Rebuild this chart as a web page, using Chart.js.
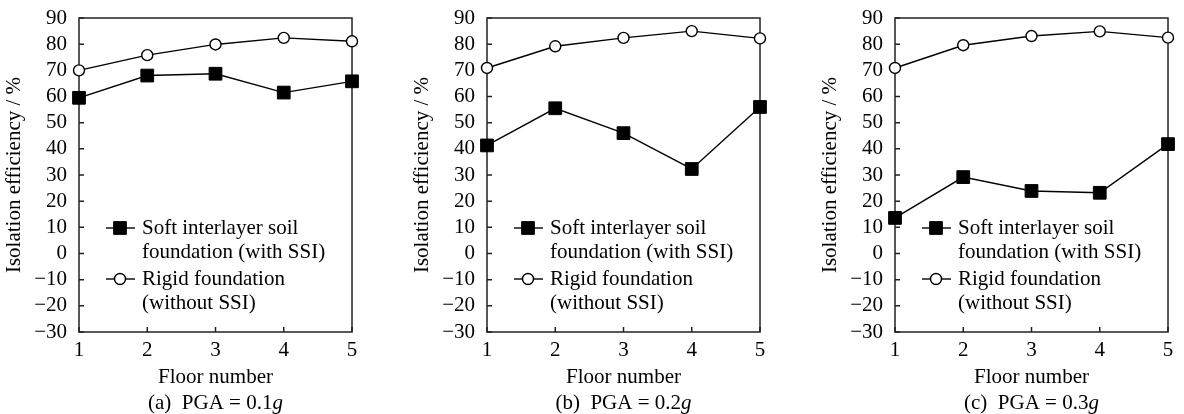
<!DOCTYPE html>
<html>
<head>
<meta charset="utf-8">
<script src="https://cdn.jsdelivr.net/npm/chart.js@4.4.1/dist/chart.umd.min.js"></script>
<style>
body { margin: 0; background: #fff; width: 1184px; height: 414px; overflow: hidden; position: relative }
.panel { position: absolute; top: 0 }
</style>
</head>
<body>
<div class="panel" style="left:0px"><canvas id="chartA" width="364" height="414"></canvas></div>
<div class="panel" style="left:408px"><canvas id="chartB" width="364" height="414"></canvas></div>
<div class="panel" style="left:816px"><canvas id="chartC" width="364" height="414"></canvas></div>
<script>
// floor numbers on the x axis
var floors = ['1', '2', '3', '4', '5']

// isolation efficiency (%)
var softA = [59.5, 68, 68.7, 61.5, 65.8]
var rigidA = [70, 75.8, 79.9, 82.4, 81.1]
var softB = [41.3, 55.5, 46, 32.3, 56]
var rigidB = [70.9, 79.2, 82.4, 85, 82.2]
var softC = [13.6, 29.2, 23.9, 23.2, 41.8]
var rigidC = [70.9, 79.6, 83.1, 84.9, 82.5]

// y ticks: -30 .. 90 step 10
var yMin = -30
var yMax = 90
var yStep = 10

var softLabel = ['Soft interlayer soil', 'foundation (with SSI)']
var rigidLabel = ['Rigid foundation', '(without SSI)']
var captions = ['(a)', '(b)', '(c)']
var pgaValues = ['0.1', '0.2', '0.3']

var serif = '"Liberation Serif", "Times New Roman", serif'

// frame with inner ticks, in-plot legend and caption
var decor = {
	id: 'decor',
	beforeDatasetsDraw: function(chart)
	{
		var ctx = chart.ctx
		var a = chart.chartArea
		var xs = chart.scales.x
		var ys = chart.scales.y
		ctx.save()
		ctx.strokeStyle = '#222'
		ctx.lineWidth = 1.5
		ctx.strokeRect(a.left, a.top, a.right - a.left, a.bottom - a.top)
		ctx.beginPath()
		ys.ticks.forEach(function(t)
		{
			var py = ys.getPixelForValue(t.value)
			ctx.moveTo(a.left, py)
			ctx.lineTo(a.left + 5, py)
		})
		xs.ticks.forEach(function(t, i)
		{
			var px = xs.getPixelForTick(i)
			ctx.moveTo(px, a.bottom)
			ctx.lineTo(px, a.bottom - 5)
		})
		ctx.stroke()
		ctx.restore()
	},
	afterDraw: function(chart, args, opts)
	{
		var ctx = chart.ctx
		var a = chart.chartArea
		ctx.save()
		ctx.font = '21px ' + serif
		ctx.fillStyle = '#000'
		ctx.textBaseline = 'middle'

		var rows = [210, 261]
		chart.data.datasets.forEach(function(ds, i)
		{
			var y = a.top + rows[i]
			ctx.strokeStyle = ds.borderColor
			ctx.lineWidth = ds.borderWidth
			ctx.beginPath()
			ctx.moveTo(a.left + 27, y)
			ctx.lineTo(a.left + 56, y)
			ctx.stroke()
			var cx = a.left + 41
			ctx.fillStyle = ds.pointBackgroundColor
			ctx.strokeStyle = ds.pointBorderColor
			ctx.lineWidth = ds.pointBorderWidth
			ctx.beginPath()
			if(ds.pointStyle == 'rect')
			{
				var s = ds.pointRadius * Math.SQRT1_2
				ctx.rect(cx - s, y - s, 2 * s, 2 * s)
			}
			else
				ctx.arc(cx, y, ds.pointRadius, 0, Math.PI * 2)
			ctx.fill()
			ctx.stroke()

			ctx.fillStyle = '#000'
			ctx.textAlign = 'left'
			ds.legendText.forEach(function(t, j)
			{
				ctx.fillText(t, a.left + 63, y + j * 24)
			})
		})

		// caption with italic g
		var main = opts.caption + '  PGA = ' + opts.pga
		ctx.font = '21px ' + serif
		var w1 = ctx.measureText(main).width
		ctx.font = 'italic 21px ' + serif
		var w2 = ctx.measureText('g').width
		var x0 = (a.left + a.right) / 2 - (w1 + w2) / 2
		ctx.textAlign = 'left'
		ctx.font = '21px ' + serif
		ctx.fillText(main, x0, 403)
		ctx.font = 'italic 21px ' + serif
		ctx.fillText('g', x0 + w1, 403)
		ctx.restore()
	}
}

function makeChart(id, soft, rigid, idx)
{
	return new Chart(document.getElementById(id), {
		type: 'line',
		data: {
			labels: floors,
			datasets: [{
				data: soft,
				legendText: softLabel,
				borderColor: '#000',
				borderWidth: 1.4,
				pointStyle: 'rect',
				pointRadius: 9,
				pointHoverRadius: 9,
				pointBackgroundColor: '#000',
				pointBorderColor: '#000',
				pointBorderWidth: 1,
				tension: 0,
				clip: false
			},
			{
				data: rigid,
				legendText: rigidLabel,
				borderColor: '#000',
				borderWidth: 1.4,
				pointStyle: 'circle',
				pointRadius: 5.5,
				pointHoverRadius: 5.5,
				pointBackgroundColor: '#fff',
				pointBorderColor: '#000',
				pointBorderWidth: 1.4,
				tension: 0,
				clip: false
			}]
		},
		options: {
			responsive: false,
			animation: false,
			layout: { autoPadding: false, padding: { top: 18, right: 12, bottom: 0, left: 0 } },
			plugins: {
				legend: { display: false },
				tooltip: { enabled: false },
				decor: { caption: captions[idx], pga: pgaValues[idx] }
			},
			scales: {
				x: {
					type: 'category',
					offset: false,
					grid: { display: false, drawTicks: false, tickLength: 0 },
					border: { display: false },
					ticks: { color: '#000', padding: 6, autoSkip: false, maxRotation: 0, font: { family: serif, size: 21 } },
					title: { display: true, text: 'Floor number', color: '#000', padding: { top: 0, bottom: 24 }, font: { family: serif, size: 21 } },
					afterFit: function(s) { s.height = 82; s.paddingLeft = 0; s.paddingRight = 0 }
				},
				y: {
					min: yMin,
					max: yMax,
					grid: { display: false, drawTicks: false, tickLength: 0 },
					border: { display: false },
					ticks: {
						stepSize: yStep,
						autoSkip: false,
						color: '#000',
						padding: 12,
						font: { family: serif, size: 21 },
						callback: function(v) { return String(v).replace('-', '\u2212') }
					},
					title: { display: true, text: 'Isolation efficiency / %', color: '#000', padding: { top: 2, bottom: 0 }, font: { family: serif, size: 21 } },
					afterFit: function(s) { s.width = 79; s.paddingTop = 0; s.paddingBottom = 0 }
				}
			}
		},
		plugins: [decor]
	})
}

window.onload = function()
{
	makeChart('chartA', softA, rigidA, 0)
	makeChart('chartB', softB, rigidB, 1)
	makeChart('chartC', softC, rigidC, 2)
}
</script>
</body>
</html>
